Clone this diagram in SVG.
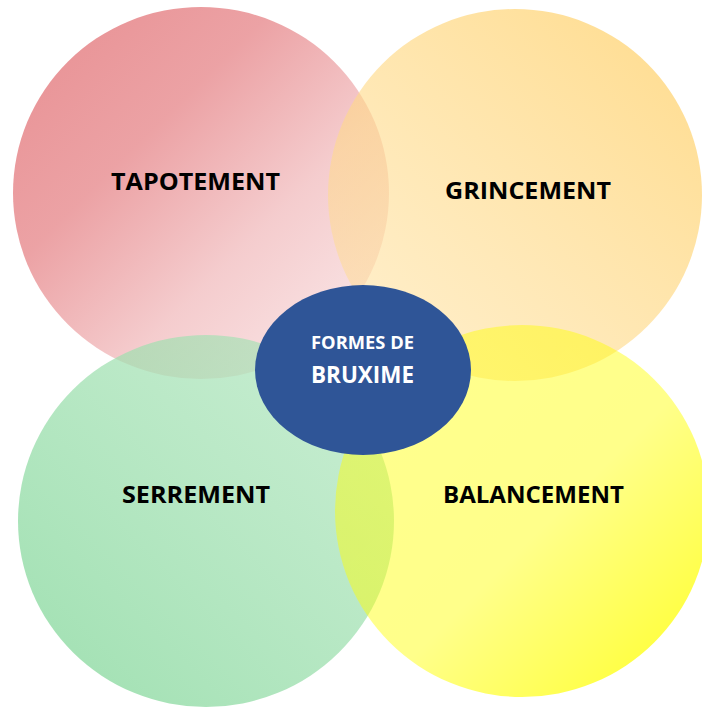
<svg xmlns="http://www.w3.org/2000/svg" width="702" height="707" viewBox="0 0 702 707">
  <defs>
    <linearGradient id="gRed" x1="0" y1="0" x2="1" y2="1">
      <stop offset="0" stop-color="#E27276" stop-opacity="0.8"/>
      <stop offset="0.35" stop-color="#E27276" stop-opacity="0.66"/>
      <stop offset="0.63" stop-color="#E27276" stop-opacity="0.36"/>
      <stop offset="0.85" stop-color="#E27276" stop-opacity="0.22"/>
      <stop offset="1" stop-color="#E27276" stop-opacity="0.12"/>
    </linearGradient>
    <linearGradient id="gOrange" x1="0" y1="1" x2="1" y2="0">
      <stop offset="0" stop-color="#FFDE96" stop-opacity="0.45"/>
      <stop offset="1" stop-color="#FFD26E" stop-opacity="0.8"/>
    </linearGradient>
    <linearGradient id="gGreen" x1="0" y1="1" x2="1" y2="0">
      <stop offset="0" stop-color="#8DDAA2" stop-opacity="0.85"/>
      <stop offset="1" stop-color="#A8E3B7" stop-opacity="0.6"/>
    </linearGradient>
    <linearGradient id="gYellow" x1="0" y1="0" x2="1" y2="1">
      <stop offset="0" stop-color="#FFFF00" stop-opacity="0.44"/>
      <stop offset="0.55" stop-color="#FFFF00" stop-opacity="0.46"/>
      <stop offset="1" stop-color="#FFFF00" stop-opacity="0.85"/>
    </linearGradient>
    <style>
      .lbl { font-family: "Open Sans", "Liberation Sans", Arial, sans-serif; font-weight: 700; font-size: 23.5px; fill: #000; text-anchor: middle; }
      .ctr { font-family: "Open Sans", "Liberation Sans", Arial, sans-serif; font-weight: 700; fill: #FFFFFF; text-anchor: middle; }
    </style>
  </defs>
  <rect width="702" height="707" fill="#FFFFFF"/>
  <g id="tapotement">
    <ellipse cx="201" cy="193" rx="188" ry="186" fill="url(#gRed)"/>
    <text class="lbl" x="195.5" y="190" textLength="169" lengthAdjust="spacingAndGlyphs">TAPOTEMENT</text>
  </g>
  <g id="grincement">
    <ellipse cx="515" cy="195" rx="187" ry="186" fill="url(#gOrange)"/>
    <text class="lbl" x="528" y="199" textLength="166" lengthAdjust="spacingAndGlyphs">GRINCEMENT</text>
  </g>
  <g id="serrement">
    <ellipse cx="206" cy="521" rx="188" ry="186" fill="url(#gGreen)"/>
    <text class="lbl" x="196" y="503" textLength="148" lengthAdjust="spacingAndGlyphs">SERREMENT</text>
  </g>
  <g id="balancement">
    <ellipse cx="522" cy="511" rx="187" ry="186" fill="url(#gYellow)"/>
    <text class="lbl" x="533.5" y="503" textLength="181" lengthAdjust="spacingAndGlyphs">BALANCEMENT</text>
  </g>
  <g id="connectors"/>
  <g id="formes-de-bruxime">
    <ellipse cx="363" cy="370" rx="108" ry="85" fill="#2F5597"/>
    <text class="ctr" x="362.5" y="349" font-size="17" textLength="103" lengthAdjust="spacingAndGlyphs">FORMES DE</text>
    <text class="ctr" x="362.5" y="382.5" font-size="22.5" textLength="103" lengthAdjust="spacingAndGlyphs">BRUXIME</text>
  </g>
</svg>
